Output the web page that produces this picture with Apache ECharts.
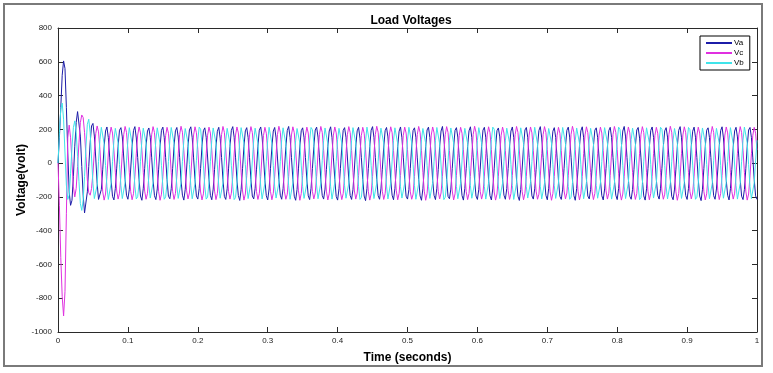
<!DOCTYPE html>
<html><head><meta charset="utf-8">
<script src="https://cdn.jsdelivr.net/npm/echarts@6/dist/echarts.min.js"></script>
<style>html,body{margin:0;padding:0;background:#fff}#c{width:773px;height:373px}</style>
</head><body><div id="c"></div>
<script>
// sample spacing of the recorded waveforms (seconds)
const sampleStep = 0.002;
const seriesNames = ['Va', 'Vc', 'Vb'];

const Va = [
0,150,330,520,605,560,330,60,-170,-250,
-220,-80,100,240,305,300,160,-20,-190,-295,
-290,-170,-20,120,220,235,160,30,-120,-215,
-224,-156,-36,96,190,214,151,31,-101,-197,
-218,-150,-30,100,195,210,155,36,-96,-190,
-214,-155,-35,97,193,216,149,33,-99,-195,
-220,-149,-31,101,190,208,153,35,-100,-193,
-216,-153,-36,96,194,213,151,32,-97,-196,
-211,-151,-33,99,191,211,154,34,-101,-190,
-219,-156,-35,98,196,215,150,31,-98,-194,
-213,-150,-32,100,192,209,152,36,-95,-191,
-217,-154,-37,95,189,212,148,33,-99,-197,
-215,-152,-34,99,194,216,153,35,-100,-192,
-221,-155,-33,97,191,210,151,32,-97,-195,
-212,-150,-36,100,195,214,155,36,-102,-193,
-218,-153,-31,96,190,211,149,30,-98,-190,
-214,-151,-35,98,193,217,152,34,-96,-196,
-220,-156,-34,101,192,209,150,33,-100,-194,
-216,-149,-32,97,196,213,154,35,-99,-191,
-213,-154,-37,99,190,215,151,31,-97,-197,
-219,-152,-33,96,194,210,153,36,-101,-192,
-215,-155,-35,100,191,212,148,32,-98,-195,
-222,-150,-31,98,195,216,152,34,-96,-193,
-214,-153,-36,95,192,211,155,33,-100,-190,
-217,-151,-34,99,189,214,150,35,-99,-196,
-213,-156,-32,101,193,209,153,31,-97,-194,
-220,-152,-35,97,196,213,151,36,-102,-191,
-216,-149,-37,100,190,217,149,33,-98,-197,
-211,-154,-33,96,194,210,154,34,-96,-192,
-219,-150,-31,98,191,215,152,32,-101,-195,
-215,-155,-36,99,195,212,150,35,-99,-193,
-218,-153,-34,95,192,208,155,30,-97,-190,
-214,-151,-32,101,190,214,151,36,-100,-196,
-221,-156,-35,97,196,211,153,33,-98,-194,
-213,-152,-37,100,193,216,149,34,-96,-191,
-217,-149,-33,96,189,210,152,31,-102,-197,
-215,-154,-31,98,194,213,154,35,-99,-192,
-220,-150,-36,99,191,215,150,32,-97,-195,
-212,-155,-34,101,195,209,153,36,-101,-193,
-218,-153,-32,95,192,212,151,33,-98,-190,
-216,-151,-35,97,190,217,155,34,-96,-196,
-214,-156,-37,100,196,211,148,31,-100,-194,
-219,-152,-33,96,193,214,152,35,-99,-191,
-213,-149,-31,99,191,210,154,32,-97,-197,
-217,-154,-36,98,194,216,150,36,-102,-192,
-215,-150,-34,101,189,213,153,33,-98,-195,
-222,-155,-32,97,195,209,151,34,-96,-193,
-214,-153,-35,100,192,215,149,30,-101,-190,
-218,-151,-37,95,190,212,155,35,-99,-196,
-216,-156,-33,99,196,211,152,31,-97,-194,
-215
];

const Vc = [
0,-250,-560,-790,-905,-760,-300,150,225,150,
10,-140,-200,-150,-20,120,240,285,270,180,
40,-100,-175,-190,-150,-60,70,175,220,185,
80,-58,-170,-219,-183,-79,54,165,213,178,
75,-54,-165,-213,-178,-75,58,169,217,182,
78,-57,-168,-217,-181,-78,55,166,214,179,
76,-55,-166,-214,-179,-76,57,168,216,181,
79,-59,-169,-220,-184,-80,53,164,212,177,
77,-56,-167,-215,-180,-77,56,170,218,183,
74,-53,-164,-212,-177,-74,59,167,215,180,
81,-60,-171,-218,-182,-81,55,165,213,178,
76,-55,-166,-216,-180,-76,57,169,217,182,
78,-57,-168,-213,-178,-78,54,166,214,179,
75,-54,-165,-219,-183,-75,58,168,216,181,
79,-58,-169,-215,-181,-79,56,164,212,177,
77,-56,-167,-217,-179,-77,53,170,218,183,
80,-59,-170,-214,-184,-80,57,167,215,180,
74,-53,-164,-220,-180,-74,55,165,213,178,
78,-57,-168,-212,-177,-78,59,169,217,182,
76,-55,-166,-218,-182,-76,54,166,214,179,
81,-60,-171,-216,-180,-81,58,168,216,181,
75,-54,-165,-213,-178,-75,56,164,212,177,
79,-58,-169,-219,-183,-79,53,170,218,183,
77,-56,-167,-215,-181,-77,57,167,215,180,
74,-53,-164,-217,-179,-74,55,165,213,178,
80,-59,-170,-214,-184,-80,59,169,217,182,
76,-55,-166,-220,-180,-76,54,166,214,179,
78,-57,-168,-212,-177,-78,58,168,216,181,
75,-54,-165,-218,-182,-75,56,164,212,177,
79,-58,-169,-216,-180,-79,53,170,218,183,
77,-56,-167,-213,-178,-77,57,167,215,180,
81,-60,-171,-219,-183,-81,55,165,213,178,
74,-53,-164,-215,-181,-74,59,169,217,182,
78,-57,-168,-217,-179,-78,54,166,214,179,
76,-55,-166,-214,-184,-76,58,168,216,181,
80,-59,-170,-220,-180,-80,56,164,212,177,
75,-54,-165,-212,-177,-75,53,170,218,183,
79,-58,-169,-218,-182,-79,57,167,215,180,
77,-56,-167,-216,-180,-77,55,165,213,178,
74,-53,-164,-213,-178,-74,59,169,217,182,
81,-60,-171,-219,-183,-81,54,166,214,179,
76,-55,-166,-215,-181,-76,58,168,216,181,
78,-57,-168,-217,-179,-78,56,164,212,177,
75,-54,-165,-214,-184,-75,53,170,218,183,
80,-59,-170,-220,-180,-80,57,167,215,180,
77,-56,-167,-212,-177,-77,55,165,213,178,
79,-58,-169,-218,-182,-79,59,169,217,182,
74,-53,-164,-216,-180,-74,54,166,214,179,
78,-57,-168,-213,-178,-78,58,168,216,181,
76,-55,-166,-219,-183,-76,56,164,212,177,
77
];

const Vb = [
0,180,320,355,260,60,-130,-215,-190,-60,
90,210,250,180,40,-110,-240,-280,-220,-80,
100,230,260,180,30,-120,-210,-215,-130,10,
138,212,203,115,-14,-140,-215,-205,-120,8,
133,206,199,119,-9,-133,-210,-203,-115,13,
136,210,202,116,-12,-137,-212,-199,-118,10,
134,207,204,118,-10,-134,-207,-204,-116,12,
137,209,200,114,-13,-138,-214,-200,-119,9,
135,211,203,117,-11,-136,-209,-202,-117,11,
132,205,198,120,-8,-132,-211,-206,-121,14,
139,213,201,116,-12,-139,-213,-201,-116,10,
134,208,205,118,-10,-135,-208,-198,-118,12,
136,206,200,115,-13,-137,-216,-204,-120,8,
133,210,202,119,-9,-134,-210,-200,-115,13,
137,207,199,117,-11,-136,-212,-203,-119,11,
135,212,204,116,-14,-140,-207,-199,-117,9,
138,209,201,114,-10,-133,-214,-205,-116,12,
134,205,203,118,-12,-138,-209,-201,-121,10,
136,211,198,120,-8,-135,-211,-202,-118,14,
133,208,202,115,-13,-137,-213,-206,-115,9,
139,206,205,117,-11,-134,-208,-200,-120,11,
135,210,200,119,-9,-139,-215,-203,-117,13,
132,213,203,116,-14,-132,-210,-199,-119,8,
137,207,199,118,-10,-136,-212,-204,-116,12,
134,209,204,115,-12,-140,-207,-201,-118,10,
136,212,201,120,-8,-133,-214,-205,-121,14,
138,205,202,117,-13,-137,-209,-198,-115,9,
133,211,200,114,-11,-135,-216,-202,-120,11,
135,208,203,119,-9,-138,-211,-206,-117,13,
137,206,198,116,-14,-134,-208,-200,-119,8,
134,210,205,118,-10,-139,-213,-203,-116,12,
139,213,201,115,-12,-136,-210,-199,-118,10,
132,207,199,120,-8,-133,-215,-204,-121,14,
136,209,204,117,-13,-140,-207,-201,-115,9,
135,212,202,114,-11,-137,-212,-205,-120,11,
133,205,200,119,-9,-134,-209,-198,-117,13,
138,211,203,116,-14,-138,-214,-202,-119,8,
134,208,198,118,-10,-135,-211,-206,-116,12,
137,206,205,115,-12,-132,-208,-200,-118,10,
135,210,201,120,-8,-139,-213,-203,-121,14,
132,213,199,117,-13,-136,-210,-199,-115,9,
139,207,204,114,-11,-133,-216,-204,-120,11,
136,209,202,119,-9,-137,-207,-201,-117,13,
134,212,200,116,-14,-140,-212,-205,-119,8,
137,205,203,118,-10,-134,-209,-198,-116,12,
133,211,198,115,-12,-138,-214,-202,-118,10,
135,208,205,120,-8,-135,-211,-206,-121,14,
138,206,201,117,-13,-137,-208,-200,-115,9,
134,210,199,114,-11,-133,-213,-203,-120,11,
136,213,204,119,-9,-139,-210,-199,-117,13,
135
];

const FONT = 'Liberation Sans, Arial, sans-serif';
const toPts = arr => arr.map((v, i) => [Math.round(i * sampleStep * 1000) / 1000, v]);

const chart = echarts.init(document.getElementById('c'), null, {renderer: 'canvas'});

const axisLineStyle = {color: '#2a2a2a', width: 1};
const lineCfg = {show: true, onZero: false, lineStyle: axisLineStyle};
const tickCfg = {show: true, inside: true, length: 5, lineStyle: axisLineStyle};
const xBase = {type: 'value', min: 0, max: 1, interval: 0.1, splitLine: {show: false}};
const yBase = {type: 'value', min: -1000, max: 800, interval: 200, splitLine: {show: false}};

chart.setOption({
  animation: false,
  backgroundColor: '#fff',
  title: {
    text: 'Load Voltages', left: 406, top: 10, textAlign: 'center',
    textStyle: {fontFamily: FONT, fontSize: 12, fontWeight: 'bold', color: '#000'}
  },
  legend: {
    data: seriesNames, orient: 'vertical', left: 700, top: 36,
    itemWidth: 26, itemHeight: 8, itemGap: 2,
    padding: [3, 6, 3, 5],
    borderColor: '#000', borderWidth: 1, backgroundColor: '#fff',
    itemStyle: {opacity: 0},
    textStyle: {fontFamily: FONT, fontSize: 8, color: '#000', padding: [0, 0, 0, -3]}
  },
  grid: {left: 58, right: 16, top: 28, bottom: 41},
  xAxis: [
    Object.assign({}, xBase, {
      position: 'bottom',
      name: 'Time (seconds)', nameLocation: 'middle', nameGap: 20, nameMoveOverlap: false,
      nameTextStyle: {fontFamily: FONT, fontSize: 12, fontWeight: 'bold', color: '#000'},
      axisLine: lineCfg, axisTick: tickCfg,
      axisLabel: {fontFamily: FONT, fontSize: 8, color: '#222', margin: 5,
        formatter: v => String(Math.round(v * 10) / 10)}
    }),
    Object.assign({}, xBase, {
      position: 'top',
      axisLine: lineCfg, axisTick: tickCfg,
      axisLabel: {show: false}
    })
  ],
  yAxis: [
    Object.assign({}, yBase, {
      position: 'left',
      name: 'Voltage(volt)', nameLocation: 'middle', nameGap: 30, nameRotate: 90,
      nameMoveOverlap: false,
      nameTextStyle: {fontFamily: FONT, fontSize: 12, fontWeight: 'bold', color: '#000'},
      axisLine: lineCfg, axisTick: tickCfg,
      axisLabel: {fontFamily: FONT, fontSize: 8, color: '#222', margin: 6,
        formatter: v => String(v)}
    }),
    Object.assign({}, yBase, {
      position: 'right',
      axisLine: lineCfg, axisTick: tickCfg,
      axisLabel: {show: false}
    })
  ],
  graphic: [{
    type: 'rect', silent: true, z: -10,
    shape: {x: 4, y: 4, width: 758, height: 362},
    style: {fill: 'none', stroke: '#7a7a7a', lineWidth: 2}
  }],
  series: [
    {name: 'Va', type: 'line', data: toPts(Va), color: '#1c1ca8'},
    {name: 'Vc', type: 'line', data: toPts(Vc), color: '#e030e0'},
    {name: 'Vb', type: 'line', data: toPts(Vb), color: '#40e4ea'}
  ].map(s => Object.assign(s, {
    xAxisIndex: 0, yAxisIndex: 0, symbol: 'none', showSymbol: false,
    lineStyle: {width: 1}, silent: true
  }))
});
</script>
</body></html>
